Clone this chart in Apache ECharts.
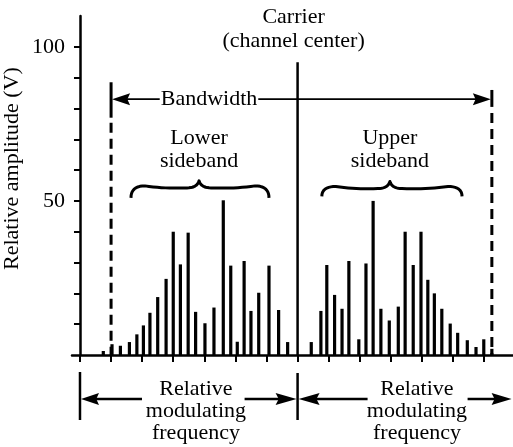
<!DOCTYPE html>
<html>
<head>
<meta charset="utf-8">
<script src="https://cdn.jsdelivr.net/npm/echarts@6/dist/echarts.min.js"></script>
<style>html,body{margin:0;padding:0;background:#fff;}#c{width:513px;height:447px;}</style>
</head>
<body>
<div id="c"></div>
<script>
// ---- data (x in relative-frequency units, amplitude in V) ----
const lowerX   = [0.75, 1.03, 1.30, 1.59, 1.83, 2.04, 2.25, 2.50, 2.77, 3.00, 3.23, 3.48, 3.72, 4.02, 4.31, 4.61, 4.85, 5.06, 5.28, 5.50, 5.75, 6.08, 6.39, 6.68];
const lowerAmp = [1.3, 3.5, 3.0, 4.2, 6.7, 9.6, 13.7, 18.8, 24.7, 40, 29.4, 39.7, 14, 10.3, 15.4, 50.2, 29, 4.3, 30.5, 14.3, 20.2, 29, 14.6, 4.2];
const upperX   = [7.44, 7.75, 7.94, 8.19, 8.43, 8.65, 8.97, 9.20, 9.43, 9.68, 9.95, 10.24, 10.46, 10.72, 10.97, 11.19, 11.40, 11.64, 11.91, 12.15, 12.46, 12.74, 12.99, 13.25];
const upperAmp = [4.2, 14.3, 29.2, 19.5, 15, 30.5, 5.1, 29.7, 50, 15, 11.2, 15.7, 40, 29.2, 40, 24.4, 20, 15, 10.2, 7.2, 4.8, 2.6, 5.1, 2];
const carrierX   = [7];
const carrierAmp = [95];
const xTickValues = [0,1,2,3,4,5,6,7,8,9,10,11,12,13];
const yTickValues = [10,20,30,40,50,60,70,80,90,100];
const yTickLabels = [50, 100];
const bandwidthEdges = [1.0, 13.25];

const FONT = '"Liberation Serif", "Times New Roman", serif';
const FS = 22;
const chart = echarts.init(document.getElementById('c'), null, {renderer: 'canvas'});

function barRenderer(w) {
  return function (params, api) {
    const x = api.value(0), y = api.value(1);
    const p0 = api.coord([x, 0]);
    const p1 = api.coord([x, y]);
    return {type: 'rect', shape: {x: p0[0] - w / 2, y: p1[1], width: w, height: p0[1] - p1[1]}, style: {fill: '#000'}};
  };
}
const pairs = (xs, ys) => xs.map((x, i) => [x, ys[i]]);

chart.setOption({
  animation: false,
  backgroundColor: '#fff',
  grid: {left: 72, right: 0, top: 16, bottom: 92},
  xAxis: {
    type: 'value', min: -0.257, max: 13.93,
    axisLine: {show: true, onZero: true, lineStyle: {color: '#000', width: 2.5}},
    axisTick: {show: true, customValues: xTickValues, length: 7, lineStyle: {color: '#000', width: 2}},
    axisLabel: {show: false},
    splitLine: {show: false}
  },
  yAxis: {
    type: 'value', min: 0, max: 110,
    axisLine: {show: true, onZero: true, lineStyle: {color: '#000', width: 2.5}},
    axisTick: {show: true, customValues: yTickValues, length: 6, lineStyle: {color: '#000', width: 2}},
    axisLabel: {show: true, customValues: yTickLabels, margin: 7, color: '#000', fontSize: FS, fontFamily: FONT},
    splitLine: {show: false}
  },
  series: [
    {type: 'custom', name: 'Lower sideband', renderItem: barRenderer(3.2), data: pairs(lowerX, lowerAmp), encode: {x: 0, y: 1}},
    {type: 'custom', name: 'Upper sideband', renderItem: barRenderer(3.2), data: pairs(upperX, upperAmp), encode: {x: 0, y: 1}},
    {type: 'custom', name: 'Carrier', renderItem: barRenderer(2.5), data: pairs(carrierX, carrierAmp), encode: {x: 0, y: 1}}
  ]
});

const X = u => chart.convertToPixel({gridIndex: 0}, [u, 0])[0];
const Y = v => chart.convertToPixel({gridIndex: 0}, [0, v])[1];

function line(x1, y1, x2, y2, w, dash) {
  return {type: 'line', shape: {x1, y1, x2, y2}, style: {stroke: '#000', lineWidth: w, lineDash: dash || null}, silent: true};
}
function arrowHead(tipX, y, dir, len, half) {
  return {type: 'polygon', shape: {points: [[tipX, y], [tipX - dir * len, y - half], [tipX - dir * len * 0.85, y], [tipX - dir * len, y + half]]}, style: {fill: '#000'}, silent: true};
}
function text(str, x, y, lh, extra) {
  return {type: 'text', x, y, silent: true, style: Object.assign({text: str, fontSize: FS, fontFamily: FONT, fill: '#000', align: 'center', verticalAlign: 'middle', lineHeight: lh || 23}, extra || {})};
}
function quad(pts, p0, c, p1) {
  for (let i = 1; i <= 10; i++) {
    const t = i / 10, s = 1 - t;
    pts.push([s * s * p0[0] + 2 * s * t * c[0] + t * t * p1[0], s * s * p0[1] + 2 * s * t * c[1] + t * t * p1[1]]);
  }
}
function brace(x0, x1, xm, yt, yb) {
  const a = yt + 5, b = yt + 7;
  const pts = [[x0, yb]];
  quad(pts, [x0, yb], [x0, a], [x0 + 14, a]);
  quad(pts, [x0 + 14, a], [(x0 + xm) / 2, b + 1], [xm - 12, b]);
  quad(pts, [xm - 12, b], [xm - 2, b], [xm, yt]);
  quad(pts, [xm, yt], [xm + 2, b], [xm + 12, b]);
  quad(pts, [xm + 12, b], [(x1 + xm) / 2, b + 1], [x1 - 14, a]);
  quad(pts, [x1 - 14, a], [x1, a], [x1, yb]);
  return {type: 'polyline', shape: {points: pts}, style: {stroke: '#000', lineWidth: 3, fill: null, lineJoin: 'round'}, silent: true};
}

const xl = X(bandwidthEdges[0]), xr = X(bandwidthEdges[1]), xc = X(carrierX[0]);
const yA = Y(83), base = Y(0);
const g = [];
// bandwidth
g.push(line(xl, Y(88.5), xl, Y(77), 3));
g.push(line(xl, Y(77) + 5, xl, base, 3, [10, 6]));
g.push(line(xr, Y(86), xr, Y(80.5), 3));
g.push(line(xr, Y(80.5) + 6, xr, base, 3, [10, 6]));
g.push(line(xl + 10, yA, xr - 10, yA, 1.8));
g.push(arrowHead(xl + 1, yA, -1, 18, 6));
g.push(arrowHead(xr - 1, yA, 1, 18, 6));
g.push(text('Bandwidth', X(4.15), yA, 23, {backgroundColor: '#fff', padding: [0, 1]}));
// carrier label
g.push(text('Carrier\n(channel center)', xc - 4, Y(105.7), 24));
// sidebands
g.push(text('Lower\nsideband', X(3.83), Y(66.6), 23));
g.push(brace(X(1.64), X(6.08), X(3.83), Y(56.5), Y(51)));
g.push(text('Upper\nsideband', X(9.97), Y(66.6), 23));
g.push(brace(X(7.78), X(12.29), X(9.97), Y(56.3), Y(51.5)));
// bottom: relative modulating frequency
const x0 = X(0), ay = base + 44;
g.push(line(x0, base + 17, x0, base + 65, 2.5));
g.push(line(xc, base + 18, xc, base + 65, 2.5));
g.push(line(x0 + 14, ay, x0 + 62, ay, 2.5));
g.push(arrowHead(x0 + 1, ay, -1, 18, 6));
g.push(line(xc - 53, ay, xc - 16, ay, 2.5));
g.push(arrowHead(xc - 1, ay, 1, 21, 6));
g.push(line(xc + 16, ay, xc + 70, ay, 2.5));
g.push(arrowHead(xc + 1, ay, -1, 21, 6));
g.push(line(xc + 170, ay, xc + 200, ay, 2.5));
g.push(arrowHead(xc + 214, ay, 1, 20, 6));
g.push(text('Relative\nmodulating\nfrequency', X(3.73), base + 56, 22));
g.push(text('Relative\nmodulating\nfrequency', X(10.84), base + 56, 22));
// y axis title
g.push({type: 'text', x: 12, y: Y(60.5), rotation: Math.PI / 2, silent: true,
  style: {text: 'Relative amplitude (V)', fontSize: FS, fontFamily: FONT, fill: '#000', align: 'center', verticalAlign: 'middle'}});

chart.setOption({graphic: g});
</script>
</body>
</html>
